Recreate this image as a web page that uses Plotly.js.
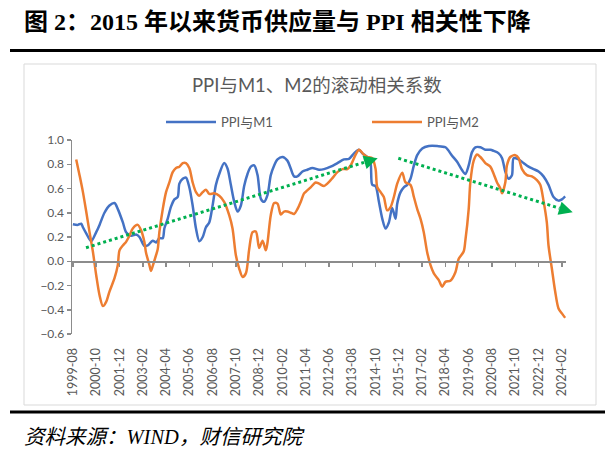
<!DOCTYPE html>
<html>
<head>
<meta charset="utf-8">
<script src="https://cdn.plot.ly/plotly-3.0.1.min.js"></script>
<style>html,body{margin:0;padding:0;background:#fff;}#chart{width:615px;height:454px;}</style>
</head>
<body>
<div id="chart"></div>
<script>
// ---- data ----
const m1Dates = ['1999-08','1999-11','2000-01','2000-02','2000-04','2000-07','2000-10','2000-12','2001-03','2001-06','2001-09','2001-11','2002-02','2002-04','2002-07','2002-10','2002-12','2003-03','2003-05','2003-08','2003-10','2003-12','2004-02','2004-03','2004-05','2004-07','2004-09','2004-11','2004-12','2005-02','2005-04','2005-06','2005-08','2005-10','2005-12','2006-02','2006-04','2006-06','2006-08','2006-10','2006-12','2007-03','2007-05','2007-07','2007-09','2007-11','2008-01','2008-03','2008-05','2008-07','2008-09','2008-11','2009-01','2009-03','2009-05','2009-07','2009-09','2009-11','2010-02','2010-05','2010-07','2010-09','2010-11','2011-02','2011-05','2011-08','2011-12','2012-03','2012-07','2012-11','2013-03','2013-06','2013-09','2013-12','2014-02','2014-05','2014-07','2014-08','2014-10','2014-12','2015-02','2015-04','2015-06','2015-08','2015-10','2015-11','2016-01','2016-03','2016-05','2016-07','2016-09','2016-11','2017-02','2017-06','2017-11','2018-04','2018-08','2018-11','2019-02','2019-04','2019-06','2019-08','2019-10','2020-01','2020-04','2020-07','2020-09','2020-12','2021-02','2021-04','2021-06','2021-08','2021-09','2021-12','2022-03','2022-06','2022-09','2022-12','2023-03','2023-06','2023-09','2023-12','2024-02','2024-04'];
const m1Values = [0.305,0.30,0.31,0.28,0.23,0.165,0.24,0.30,0.40,0.46,0.48,0.43,0.32,0.24,0.21,0.22,0.20,0.126,0.13,0.17,0.155,0.19,0.19,0.27,0.35,0.45,0.51,0.53,0.64,0.68,0.69,0.61,0.46,0.27,0.165,0.20,0.28,0.32,0.46,0.63,0.72,0.81,0.765,0.63,0.49,0.41,0.46,0.62,0.72,0.78,0.79,0.71,0.515,0.49,0.545,0.71,0.79,0.84,0.86,0.83,0.765,0.70,0.70,0.74,0.755,0.77,0.755,0.76,0.78,0.81,0.84,0.845,0.89,0.92,0.89,0.86,0.81,0.63,0.62,0.49,0.35,0.27,0.32,0.44,0.35,0.475,0.57,0.61,0.63,0.68,0.79,0.875,0.93,0.95,0.95,0.94,0.87,0.82,0.75,0.72,0.79,0.90,0.94,0.94,0.92,0.92,0.91,0.89,0.85,0.74,0.68,0.71,0.85,0.84,0.81,0.78,0.76,0.74,0.70,0.63,0.53,0.50,0.51,0.535];

const m2Dates = ['1999-10','1999-12','2000-02','2000-04','2000-06','2000-08','2000-10','2000-12','2001-02','2001-04','2001-06','2001-09','2001-11','2001-12','2002-02','2002-04','2002-06','2002-08','2002-11','2003-01','2003-03','2003-04','2003-06','2003-07','2003-08','2003-10','2003-11','2003-12','2004-02','2004-04','2004-06','2004-08','2004-10','2004-12','2005-02','2005-04','2005-06','2005-08','2005-10','2005-12','2006-02','2006-04','2006-06','2006-09','2006-12','2007-03','2007-06','2007-08','2007-10','2007-12','2008-02','2008-04','2008-06','2008-08','2008-10','2008-12','2009-02','2009-04','2009-05','2009-07','2009-09','2009-11','2010-01','2010-03','2010-05','2010-07','2010-09','2010-11','2011-01','2011-03','2011-05','2011-07','2011-10','2011-12','2012-03','2012-05','2012-08','2012-11','2013-02','2013-05','2013-07','2013-10','2013-12','2014-03','2014-05','2014-08','2014-10','2014-11','2015-01','2015-03','2015-05','2015-07','2015-09','2015-11','2016-02','2016-04','2016-07','2016-09','2016-11','2017-01','2017-03','2017-05','2017-07','2017-09','2017-12','2018-02','2018-04','2018-07','2018-10','2018-12','2019-03','2019-04','2019-06','2019-07','2019-09','2019-11','2020-01','2020-04','2020-07','2020-09','2020-11','2021-01','2021-02','2021-04','2021-05','2021-07','2021-10','2021-12','2022-02','2022-05','2022-08','2022-11','2023-01','2023-03','2023-05','2023-06','2023-08','2023-10','2023-12','2024-02','2024-04'];
const m2Values = [0.84,0.71,0.57,0.41,0.24,0.08,-0.115,-0.28,-0.37,-0.335,-0.25,-0.14,-0.03,0.09,0.13,0.16,0.21,0.27,0.30,0.255,0.16,0.07,-0.03,-0.08,-0.04,0.05,0.10,0.24,0.43,0.57,0.65,0.735,0.77,0.78,0.81,0.81,0.77,0.65,0.57,0.54,0.57,0.59,0.555,0.56,0.54,0.49,0.38,0.27,0.05,-0.06,-0.13,-0.10,0.10,0.24,0.245,0.11,0.17,0.09,0.15,0.38,0.48,0.475,0.385,0.41,0.41,0.40,0.39,0.43,0.49,0.56,0.585,0.61,0.65,0.64,0.62,0.64,0.685,0.735,0.76,0.76,0.79,0.88,0.92,0.88,0.86,0.85,0.76,0.61,0.57,0.53,0.42,0.445,0.53,0.64,0.73,0.65,0.63,0.53,0.43,0.35,0.24,0.077,-0.03,-0.10,-0.156,-0.21,-0.17,-0.16,-0.09,0.02,0.08,0.17,0.43,0.65,0.83,0.88,0.86,0.81,0.78,0.72,0.65,0.60,0.56,0.65,0.79,0.86,0.875,0.85,0.76,0.71,0.70,0.67,0.63,0.50,0.32,0.13,-0.06,-0.25,-0.39,-0.43,-0.467];

const seriesNames = ['PPI与M1', 'PPI与M2'];
const tickDates = ['1999-08','2000-10','2001-12','2003-02','2004-04','2005-06','2006-08','2007-10','2008-12','2010-02','2011-04','2012-06','2013-08','2014-10','2015-12','2017-02','2018-04','2019-06','2020-08','2021-10','2022-12','2024-02'];
const tickLabels = tickDates.slice();
const yTicks = [-0.6,-0.4,-0.2,0,0.2,0.4,0.6,0.8,1.0];

const figTitle = '图 2：2015 年以来货币供应量与 PPI 相关性下降';
const chartTitle = 'PPI与M1、M2的滚动相关系数';
const sourceText = '资料来源：WIND，财信研究院';

// ---- layout geometry (pixels) ----
const W = 615, H = 454;
const L = 72, R = 49, T = 140, B = 120;
const PW = W - L - R, PH = H - T - B;
const px = x => (x - L) / PW;
const py = y => (H - B - y) / PH;

const font = "Lato, 'Noto Sans CJK SC', sans-serif";
const gray = '#595959';
const axisGray = '#8c8c8c';
const green = '#00B050';
const xRange = ['1999-07-16', '2024-04-16'];

const traces = [
  {x: m1Dates, y: m1Values, name: seriesNames[0], type: 'scatter', mode: 'lines',
   line: {color: '#4472C4', width: 2.5, shape: 'spline', smoothing: 0.8}, xaxis: 'x', yaxis: 'y'},
  {x: m2Dates, y: m2Values, name: seriesNames[1], type: 'scatter', mode: 'lines',
   line: {color: '#ED7D31', width: 2.5, shape: 'spline', smoothing: 0.8}, xaxis: 'x2', yaxis: 'y'}
];

const shapes = [
  // outer chart box
  {type: 'rect', xref: 'paper', yref: 'paper', x0: px(24), x1: px(596), y0: py(64), y1: py(405),
   line: {color: '#d9d9d9', width: 1}, layer: 'below'},
  // header rule
  {type: 'line', xref: 'paper', yref: 'paper', x0: px(10), x1: px(605), y0: py(50.5), y1: py(50.5),
   line: {color: '#000', width: 3}},
  // footer rule
  {type: 'line', xref: 'paper', yref: 'paper', x0: px(10), x1: px(605), y0: py(412), y1: py(412),
   line: {color: '#000', width: 3}},
  // green dotted trend lines
  {type: 'line', xref: 'paper', yref: 'paper', x0: px(86), y0: py(247.7), x1: px(364), y1: py(162.4),
   line: {color: green, width: 3, dash: 'dot'}},
  {type: 'line', xref: 'paper', yref: 'paper', x0: px(398.3), y0: py(158.3), x1: px(559.5), y1: py(208.2),
   line: {color: green, width: 3, dash: 'dot'}}
];

const annotations = [
  {xref: 'paper', yref: 'paper', x: px(22), y: py(22), xanchor: 'left', yanchor: 'middle', showarrow: false,
   text: '<b>' + figTitle + '</b>', font: {family: "'Liberation Serif', 'Noto Sans CJK SC', serif", size: 24, color: '#000'}},
  {xref: 'paper', yref: 'paper', x: px(317), y: py(85), xanchor: 'center', yanchor: 'middle', showarrow: false,
   text: chartTitle, font: {family: font, size: 18.5, color: gray}},
  {xref: 'paper', yref: 'paper', x: px(22), y: py(437), xanchor: 'left', yanchor: 'middle', showarrow: false,
   text: '<i>' + sourceText + '</i>', font: {family: "'Liberation Serif', 'Noto Sans CJK SC', serif", size: 20.5, color: '#000'}},
  // arrow heads
  {xref: 'paper', yref: 'paper', x: px(377.7), y: py(158.3), ax: -13, ay: 4, text: '', showarrow: true,
   arrowhead: 2, arrowsize: 1.1, arrowwidth: 2.5, arrowcolor: green, standoff: 0},
  {xref: 'paper', yref: 'paper', x: px(572.7), y: py(212.3), ax: -13, ay: -4, text: '', showarrow: true,
   arrowhead: 2, arrowsize: 1.1, arrowwidth: 2.5, arrowcolor: green, standoff: 0}
];

const layout = {
  width: W, height: H,
  margin: {l: L, r: R, t: T, b: B, pad: 0},
  paper_bgcolor: '#fff', plot_bgcolor: 'rgba(0,0,0,0)',
  font: {family: font, size: 12, color: gray},
  showlegend: true,
  legend: {orientation: 'h', x: px(161), xanchor: 'left', y: py(122), yanchor: 'middle',
           font: {family: font, size: 13, color: gray}, entrywidth: 141, itemwidth: 50,
           bgcolor: 'rgba(0,0,0,0)'},
  xaxis: {type: 'date', range: xRange, tickvals: tickDates, ticktext: tickLabels, tickangle: -90,
          showline: false, showgrid: false, zeroline: false, ticks: 'outside', ticklen: 8,
          tickcolor: 'rgba(0,0,0,0)', tickfont: {family: font, size: 12.5, color: gray}, fixedrange: true},
  xaxis2: {type: 'date', range: xRange, overlaying: 'x', anchor: 'free', position: py(261.1),
           tickvals: tickDates, showticklabels: false, showline: true, linecolor: axisGray, linewidth: 1.5,
           ticks: 'outside', ticklen: 4, tickcolor: axisGray, tickwidth: 1.5, showgrid: false, zeroline: false},
  yaxis: {range: [-0.6, 1.0], tickvals: yTicks, tickformat: '.1f', showline: true, linecolor: axisGray,
          linewidth: 1.5, ticks: 'outside', ticklen: 4, tickcolor: axisGray, tickwidth: 1.5,
          showgrid: false, zeroline: false, tickfont: {family: font, size: 12, color: gray}},
  shapes: shapes,
  annotations: annotations
};

Plotly.newPlot('chart', traces, layout, {displayModeBar: false, staticPlot: true});
</script>
</body>
</html>
